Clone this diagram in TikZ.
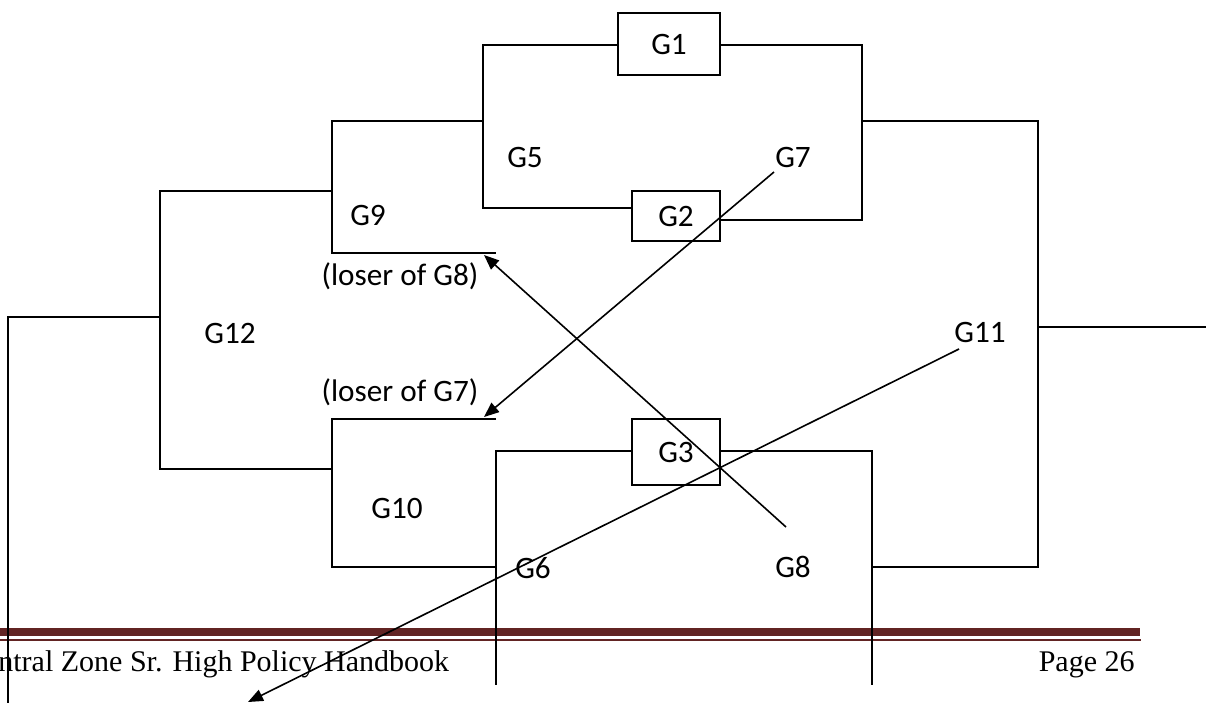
\documentclass[tikz,border=0pt]{standalone}
\usepackage{fontspec}
\setmainfont{Carlito}
\newfontfamily\footfont{Liberation Serif}
\usetikzlibrary{arrows.meta}
\definecolor{footred}{HTML}{622423}
\begin{document}
\begin{tikzpicture}[x=0.5pt,y=-0.5pt,
  wire/.style={line width=0.8pt, black},
  gbox/.style={draw, line width=0.8pt, inner sep=0pt},
  lbl/.style={font=\fontsize{15.6}{18}\selectfont, inner sep=0pt},
  arr/.style={line width=0.8pt, -{Triangle[length=7.5pt,width=6pt]}},
  foot/.style={font=\footfont\fontsize{15}{18}\selectfont, inner sep=0pt}]
\useasboundingbox (0,0) rectangle (1212,703);
% footer
\fill[footred] (0,628) rectangle (1140,636);
\fill[footred] (0,639) rectangle (1141,641);
\node[foot, anchor=base west] (foottext) at (-2,671) {ntral Zone Sr. High Policy Handbook};
\node[foot, anchor=base east] (page) at (1135,671) {Page 26};
% boxes
\node[gbox, minimum width=51pt, minimum height=31pt, lbl] (G1) at (669,44) {G1};
\node[gbox, minimum width=44pt, minimum height=25pt, lbl] (G2) at (676,216) {G2};
\node[gbox, minimum width=44pt, minimum height=33pt, lbl] (G3) at (676,452) {G3};
% labels
\node[lbl] (G5) at (525,157) {G5};
\node[lbl] (G7) at (793,157) {G7};
\node[lbl] (G9) at (368,215) {G9};
\node[lbl] (G12) at (230,333) {G12};
\node[lbl] (G11) at (980,332) {G11};
\node[lbl] (G10) at (397,508) {G10};
\node[lbl] (G6) at (533,568) {G6};
\node[lbl] (G8) at (793,567) {G8};
\node[lbl] (L8) at (400,276) {(loser of G8)};
\node[lbl] (L7) at (400,392) {(loser of G7)};
% bracket wires
\draw[wire] (G1.west |- 0,45) -- (483,45) -- (483,208) -- (G2.west |- 0,208);
\draw[wire] (G1.east |- 0,45) -- (862,45) -- (862,220) -- (G2.east |- 0,220);
\draw[wire] (862,121) -- (1038,121) -- (1038,567) -- (872,567);
\draw[wire] (G3.east |- 0,451) -- (872,451) -- (872,685);
\draw[wire] (1038,327) -- (1206,327);
\draw[wire] (483,121) -- (332,121) -- (332,253) -- (496,253);
\draw[wire] (332,191) -- (160,191) -- (160,469) -- (332,469);
\draw[wire] (160,317) -- (8,317) -- (8,703);
\draw[wire] (496,419) -- (332,419) -- (332,567) -- (496,567);
\draw[wire] (G3.west |- 0,451) -- (496,451) -- (496,685);
% arrows
\coordinate (a7s) at (774,172);
\coordinate (a7e) at (484,417);
\coordinate (a8s) at (786,527);
\coordinate (a8e) at (484,255);
\coordinate (a11s) at (959,349);
\coordinate (a11e) at (248,702);
\draw[arr] (a7s) -- (a7e);
\draw[arr] (a8s) -- (a8e);
\draw[arr] (a11s) -- (a11e);
\end{tikzpicture}
\end{document}
